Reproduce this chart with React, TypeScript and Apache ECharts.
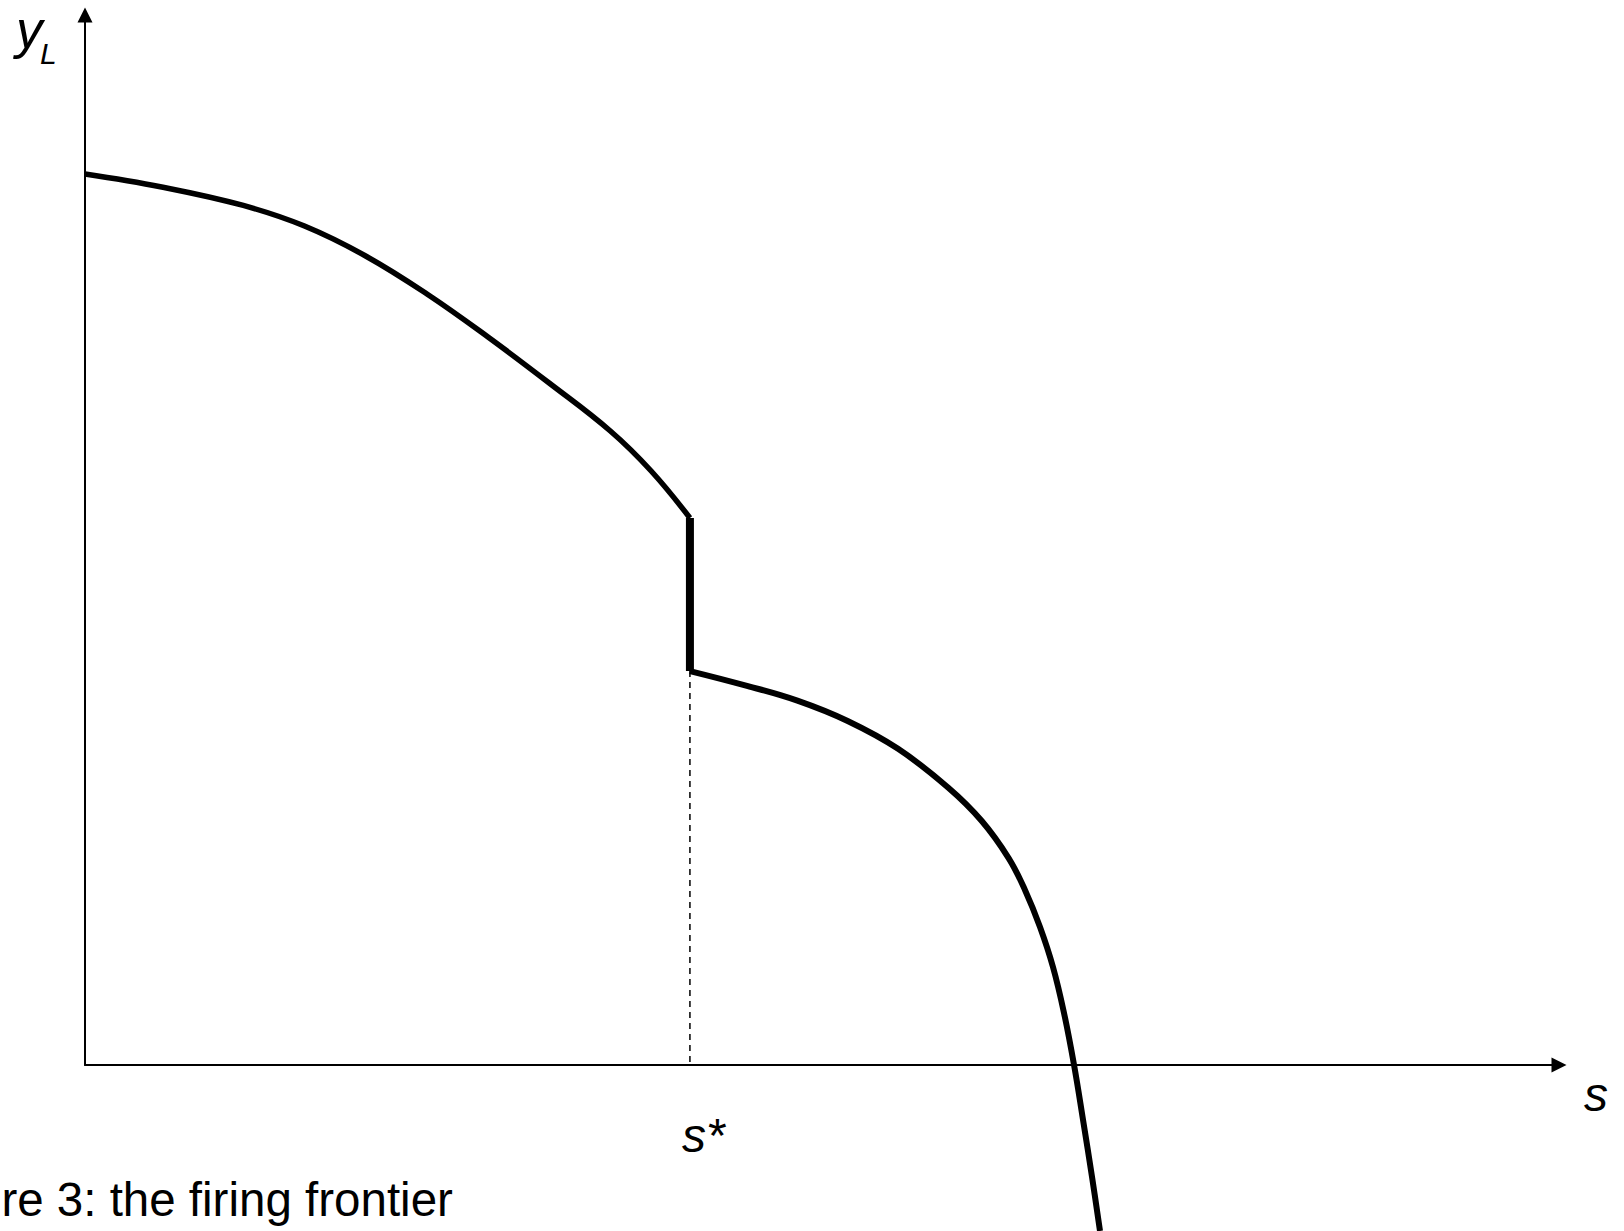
import React, { useEffect, useRef } from "react";
import * as echarts from "echarts";

// Upper branch of the firing frontier (s, y_L), left of s*
const upperS = [0, 5.2, 10.74, 14.89, 19.04, 23.2, 27.34, 31.49, 35.64, 38.41, 41.04];
const upperY = [84.86, 83.62, 81.86, 79.9, 77.05, 73.43, 69.33, 64.95, 60.38, 56.57, 52.1];

// Lower branch, right of s*
const lowerS = [41.04, 44.91, 48.33, 51.74, 55.16, 58.57, 60.84, 62.66, 63.77, 64.79, 65.67, 66.42, 67.1, 67.71, 68.32, 68.86];
const lowerY = [37.52, 36.11, 34.7, 32.76, 30.11, 26.41, 23.24, 19.71, 16.67, 13.14, 9.33, 4.95, 0, -5.24, -10.67, -15.81];

// Threshold s*
const sStar = 41.04;
const jumpTop = 52.1;
const jumpBottom = 37.52;

const FONT = "'Liberation Sans', Arial, Helvetica, sans-serif";

export default function App() {
  const ref = useRef<HTMLDivElement>(null);

  useEffect(() => {
    if (!ref.current) return;
    const chart = echarts.init(ref.current, null, { renderer: "svg" });
    const upper = upperS.map((s, i) => [s, upperY[i]]);
    const lower = lowerS.map((s, i) => [s, lowerY[i]]);
    const axisCommon = {
      type: "value",
      min: 0,
      max: 100,
      axisLine: {
        show: true,
        symbol: ["none", "triangle"],
        symbolSize: [15, 15],
        lineStyle: { color: "#000", width: 2 },
      },
      axisTick: { show: false },
      axisLabel: { show: false },
      splitLine: { show: false },
    };
    chart.setOption({
      animation: false,
      backgroundColor: "#ffffff",
      grid: { left: 85, right: 65, top: 15, bottom: 166 },
      xAxis: axisCommon,
      yAxis: axisCommon,
      series: [
        {
          type: "line",
          data: [[sStar, jumpBottom], [sStar, 0]],
          showSymbol: false,
          clip: false,
          lineStyle: { color: "#000", width: 1.5, type: [6, 5] },
          z: 1,
        },
        {
          type: "line",
          data: upper,
          smooth: 0.4,
          showSymbol: false,
          clip: false,
          lineStyle: { color: "#000", width: 5.5 },
          z: 2,
        },
        {
          type: "line",
          data: [[sStar, jumpTop], [sStar, jumpBottom]],
          showSymbol: false,
          clip: false,
          lineStyle: { color: "#000", width: 8 },
          z: 2,
        },
        {
          type: "line",
          data: lower,
          smooth: 0.4,
          showSymbol: false,
          clip: false,
          lineStyle: { color: "#000", width: 6 },
          z: 2,
        },
      ],
      graphic: [
        {
          type: "text",
          x: 16,
          y: 29,
          style: { text: "y", font: `italic 53px ${FONT}`, fill: "#000", verticalAlign: "middle", align: "left" },
        },
        {
          type: "text",
          x: 40,
          y: 53,
          style: { text: "L", font: `italic 30px ${FONT}`, fill: "#000", verticalAlign: "middle", align: "left" },
        },
        {
          type: "text",
          x: 1584,
          y: 1094,
          style: { text: "s", font: `italic 48px ${FONT}`, fill: "#000", verticalAlign: "middle", align: "left" },
        },
        {
          type: "text",
          x: 682,
          y: 1135,
          style: { text: "s*", font: `italic 48px ${FONT}`, fill: "#000", verticalAlign: "middle", align: "left" },
        },
        {
          type: "text",
          x: -91,
          y: 1199,
          style: { text: "Figure 3: the firing frontier", font: `47.5px ${FONT}`, fill: "#000", verticalAlign: "middle", align: "left" },
        },
      ],
    });
    return () => chart.dispose();
  }, []);

  return (
    <div
      ref={ref}
      style={{ position: "absolute", left: 0, top: 0, width: 1624, height: 1231, background: "#fff" }}
    />
  );
}
